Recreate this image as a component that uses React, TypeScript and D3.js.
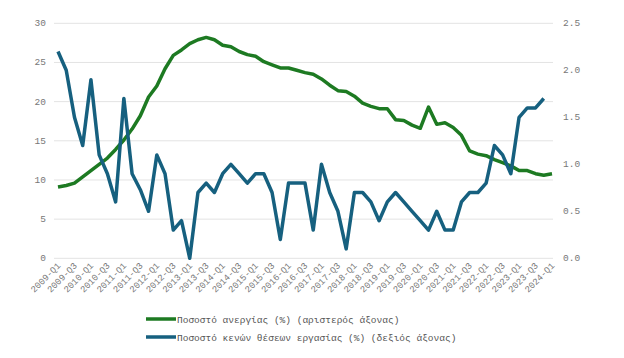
import React from "react";
import * as d3 from "d3";

const quarters: string[] = [];
for (let y = 2009; y <= 2024; y++) for (let q = 1; q <= 4; q++) quarters.push(`${y}-Q${q}`);
const categories = quarters.slice(0, 61); // 2009-Q1 .. 2024-Q1

const unemployment = [
  9.1, 9.3, 9.6, 10.4, 11.2, 12.0, 12.8, 13.9, 15.1, 16.5,
  18.2, 20.6, 22.0, 24.2, 25.9, 26.6, 27.4, 27.9, 28.2, 27.9,
  27.2, 27.0, 26.4, 26.0, 25.8, 25.1, 24.7, 24.3, 24.3, 24.0,
  23.7, 23.5, 22.9, 22.1, 21.4, 21.3, 20.7, 19.8, 19.4, 19.1,
  19.1, 17.7, 17.6, 17.0, 16.6, 19.3, 17.1, 17.3, 16.7, 15.7,
  13.7, 13.3, 13.1, 12.6, 12.2, 11.8, 11.2, 11.2, 10.8, 10.6,
  10.8,
];

const vacancies = [
  2.2, 2.0, 1.5, 1.2, 1.9, 1.1, 0.9, 0.6, 1.7, 0.9,
  0.73, 0.5, 1.1, 0.9, 0.3, 0.4, 0.0, 0.7, 0.8, 0.7,
  0.9, 1.0, 0.9, 0.8, 0.9, 0.9, 0.7, 0.2, 0.8, 0.8,
  0.8, 0.3, 1.0, 0.7, 0.5, 0.1, 0.7, 0.7, 0.6, 0.4,
  0.6, 0.7, 0.6, 0.5, 0.4, 0.3, 0.5, 0.3, 0.3, 0.6,
  0.7, 0.7, 0.8, 1.2, 1.1, 0.9, 1.5, 1.6, 1.6, 1.7,
];

const leftTicks = [0, 5, 10, 15, 20, 25, 30];
const rightTicks = [0, 0.5, 1.0, 1.5, 2.0, 2.5];
const legendLabels = [
  "Ποσοστό ανεργίας (%) (αριστερός άξονας)",
  "Ποσοστό κενών θέσεων εργασίας (%) (δεξιός άξονας)",
];

const GREEN = "#1d7a22";
const BLUE = "#16607f";
const FONT = "'Liberation Mono', 'DejaVu Sans Mono', monospace";

export default function App() {
  const W = 624, H = 358;
  const x0 = 58, x1 = 552;
  const yTop = 23.3, yBot = 258.3;
  const x = d3.scalePoint<string>().domain(categories).range([x0, x1]);
  const yL = d3.scaleLinear().domain([0, 30]).range([yBot, yTop]);
  const yR = d3.scaleLinear().domain([0, 2.5]).range([yBot, yTop]);

  const lineL = d3.line<number>().x((_, i) => x(categories[i])!).y((d) => yL(d));
  const lineR = d3.line<number>().x((_, i) => x(categories[i])!).y((d) => yR(d));

  const labelCats = categories.filter((_, i) => i % 2 === 0);

  return (
    <svg width={W} height={H} style={{ position: "absolute", left: 0, top: 0, background: "#fff" }}>
      {leftTicks.map((t) => (
        <g key={"l" + t}>
          <line x1={54} x2={553} y1={yL(t)} y2={yL(t)} stroke="#e3e3e3" strokeWidth={1} />
          <text x={46} y={yL(t) + 3} textAnchor="end" fontSize={9.5} fontFamily={FONT} fill="#777">
            {t}
          </text>
        </g>
      ))}
      {rightTicks.map((t) => (
        <text key={"r" + t} x={563} y={yR(t) + 3} textAnchor="start" fontSize={9.5} fontFamily={FONT} fill="#777">
          {t.toFixed(1)}
        </text>
      ))}
      {labelCats.map((c) => (
        <text
          key={c}
          transform={`translate(${x(c)! + 3},${yBot + 8}) rotate(-45)`}
          textAnchor="end"
          fontSize={9}
          fontFamily={FONT}
          fill="#777"
        >
          {c}
        </text>
      ))}
      <path d={lineL(unemployment)!} fill="none" stroke={GREEN} strokeWidth={3.5} strokeLinejoin="round" />
      <path d={lineR(vacancies)!} fill="none" stroke={BLUE} strokeWidth={3.5} strokeLinejoin="round" />
      {legendLabels.map((l, i) => (
        <g key={l} transform={`translate(146,${319 + i * 18})`}>
          <line x1={0} x2={30} y1={0} y2={0} stroke={i === 0 ? GREEN : BLUE} strokeWidth={3.5} />
          <text x={31} y={3.5} fontSize={9.5} fontFamily={FONT} fill="#555">
            {l}
          </text>
        </g>
      ))}
    </svg>
  );
}
